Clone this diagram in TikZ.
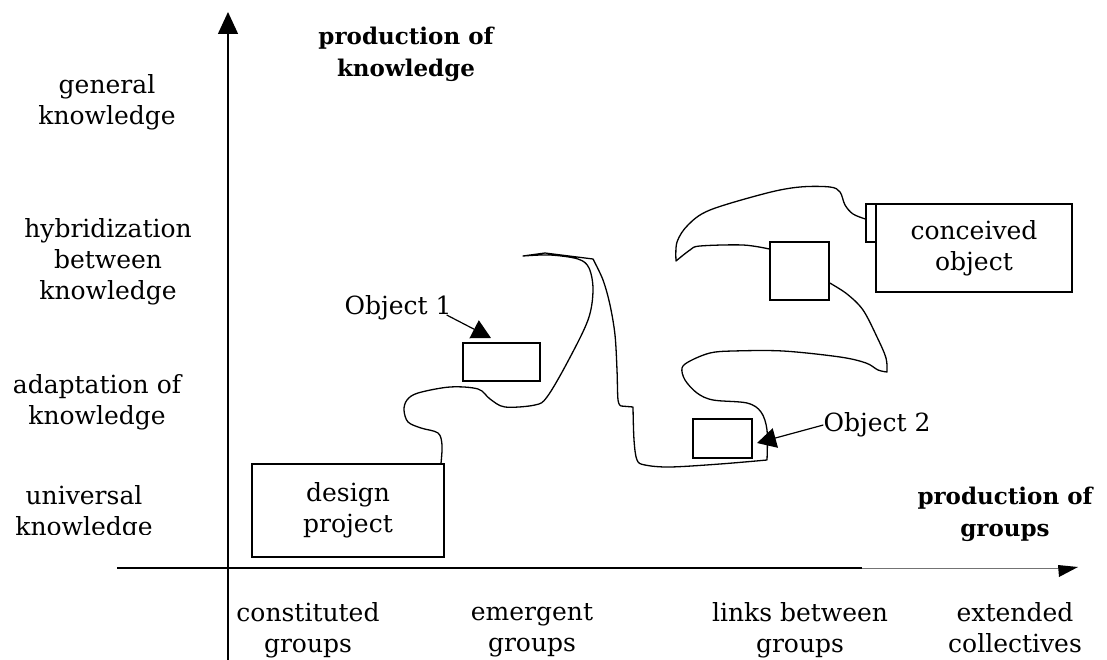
\documentclass[tikz,border=0pt]{standalone}
\usepackage{fontspec}
\setmainfont{DejaVu Serif}
\usetikzlibrary{arrows.meta}
\begin{document}
\begin{tikzpicture}[x=1pt,y=-1pt,
  lbl/.style={font=\fontsize{25}{31}\selectfont, align=center, inner sep=0pt},
  ttl/.style={font=\fontsize{23}{32}\selectfont\bfseries, align=center, inner sep=0pt},
  box/.style={draw, line width=1.5pt, inner sep=0pt, align=center, font=\fontsize{25}{31}\selectfont},
  curve/.style={line width=1.3pt, line join=round, line cap=round},
  ptr/.style={line width=1.2pt, -{Triangle[width=20pt,length=19pt]}},
  axis/.style={line width=1.4pt},
]
\useasboundingbox (0,0) rectangle (1107,660);

% axes
\coordinate (yb) at (228,660);
\coordinate (yt) at (228,12);
\draw[axis, -{Triangle[width=20pt,length=22pt]}] (yb) -- (yt);
\coordinate (xl) at (117,568);
\coordinate (xm) at (862,568);
\coordinate (xr) at (1060,568);
\draw[axis] (xl) -- (xm);
\draw[line width=0.7pt, black!55] (xm) -- (xr);
\fill (1058,565) -- (1078,567) -- (1059,577) -- cycle;

% axis titles
\node[ttl] (tk) at (406,54) {production of\\knowledge};
\node[ttl] (tg) at (1005,514) {production of\\groups};

% levels of knowledge
\node[lbl] (gk) at (107,102.5) {general\\knowledge};
\node[lbl] (hk) at (108,262) {hybridization\\between\\knowledge};
\node[lbl] (ak) at (97,402.5) {adaptation of\\knowledge};
\begin{scope}
  \clip (0,470) rectangle (228,534);
  \node[lbl] (uk) at (84,513) {universal\\knowledge};
\end{scope}

% kinds of groups
\node[lbl] (cg) at (308,630.5) {constituted\\groups};
\node[lbl] (eg) at (532,630.5) {emergent\\groups};
\node[lbl] (lg) at (800,630.5) {links between\\groups};
\node[lbl] (ec) at (1015,627.5) {extended\\collectives};

% boxes
\node[box, minimum width=192pt, minimum height=93pt] (dp) at (348,510.5) {design\\project};
\node[box, minimum width=77pt, minimum height=38pt] (o1) at (501.5,362) {};
\node[box, minimum width=59pt, minimum height=39pt] (o2) at (722.5,438.5) {};
\node[box, minimum width=59pt, minimum height=58pt] (sq) at (799.5,271) {};
\node[box, line width=1.2pt, minimum width=10pt, minimum height=38pt] (tab) at (871,223) {};
\node[box, minimum width=196pt, minimum height=88pt] (co) at (974,248) {conceived\\object};

% object labels and pointers
\node[lbl] (l1) at (398,308) {Object 1};
\node[lbl] (l2) at (877,425) {Object 2};
\coordinate (p1) at (491,338);
\coordinate (p2) at (757,443);
\draw[ptr] ([shift={(-5,7)}]l1.east) -- (p1);
\draw[ptr] (l2.west) -- (p2);

% trajectory of the design project
\draw[curve]
  plot[smooth, tension=0.55] coordinates {([xshift=93pt]dp.north) (442,445) (438,433) (421,428) (408,422) (404,410) (407,400) (418,393) (450,387) (478,389) (490,399) (505,407) (535,405) (547,397) (567,363) (588,320) (593,290) (589,268) (578,259) (550,255) (523,256)}
  -- (545,253) -- (593,259)
  -- plot[smooth, tension=0.55] coordinates {(593,259) (603,280) (610,305) (615,335) (617,370) (618,400) (621,406)}
  -- (633,407)
  -- plot[smooth, tension=0.55] coordinates {(633,407) (634,440) (637,460) (645,465) (670,467) (720,464) (767,460)}
  -- plot[smooth, tension=0.55] coordinates {(767,460) (767,430) (761,412) (747,403) (713,400) (697,393) (685,380) (682,368) (690,361) (710,353) (733,351) (783,351) (840,357) (866,363) (878,370) (887,372)}
  -- plot[smooth, tension=0.55] coordinates {(887,372) (886,358) (877,337) (863,310) (847,294) ([yshift=-12pt]sq.east)};

\draw[curve]
  plot[smooth, tension=0.55] coordinates {([yshift=22pt]sq.west) (743,245) (700,246) (690,250) (676,261)}
  -- plot[smooth, tension=0.55] coordinates {(676,261) (677,242) (688,225) (710,210) (767,193) (800,187) (830,187) (840,192) (845,205) (853,214) ([yshift=4pt]tab.west)};
\end{tikzpicture}
\end{document}
